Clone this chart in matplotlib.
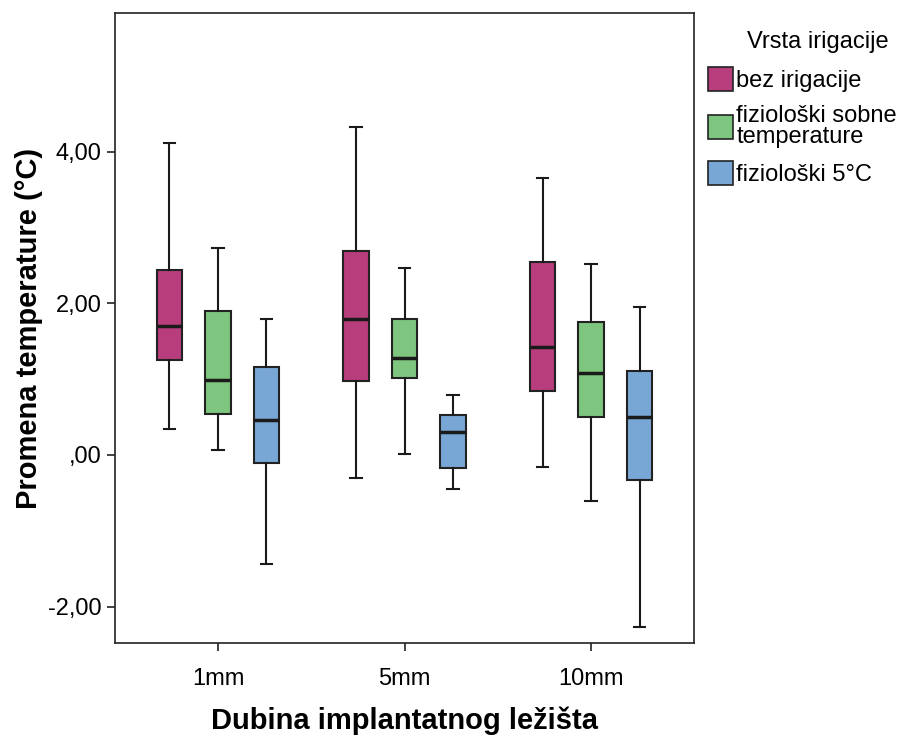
import matplotlib
matplotlib.use("Agg")
import matplotlib.pyplot as plt
from matplotlib.patches import Patch

plt.rcParams['font.family'] = ['Liberation Sans', 'DejaVu Sans']

groups = ["1mm", "5mm", "10mm"]
series = ["bez irigacije", "fiziološki sobne\ntemperature", "fiziološki 5°C"]
colors = ["#B83D7C", "#7EC67F", "#78A7D6"]

# per series: lists over groups [whislo, q1, med, q3, whishi]
bez = [[0.34, 1.25, 1.70, 2.44, 4.12],
       [-0.30, 0.98, 1.79, 2.69, 4.33],
       [-0.16, 0.84, 1.42, 2.55, 3.65]]
sobne = [[0.07, 0.54, 0.99, 1.90, 2.73],
         [0.01, 1.02, 1.28, 1.79, 2.47],
         [-0.61, 0.50, 1.08, 1.75, 2.52]]
pet = [[-1.44, -0.11, 0.46, 1.16, 1.79],
       [-0.45, -0.17, 0.30, 0.53, 0.79],
       [-2.27, -0.33, 0.50, 1.11, 1.95]]
all_series = [bez, sobne, pet]

fig = plt.figure(figsize=(9.06, 7.36), dpi=100)
ax = fig.add_axes([115/906, 93/736, 579/906, 630/736])

offsets = [-0.26, 0.0, 0.26]
for s, (data, col, off) in enumerate(zip(all_series, colors, offsets)):
    stats = []
    for vals in data:
        stats.append(dict(whislo=vals[0], q1=vals[1], med=vals[2], q3=vals[3], whishi=vals[4], fliers=[]))
    pos = [i + 1 + off for i in range(len(groups))]
    ax.bxp(stats, positions=pos, widths=0.135, patch_artist=True, showfliers=False,
           boxprops=dict(facecolor=col, edgecolor="#222222", linewidth=1.5),
           medianprops=dict(color="#1a1a1a", linewidth=2.5),
           whiskerprops=dict(color="#1a1a1a", linewidth=1.5),
           capprops=dict(color="#1a1a1a", linewidth=1.5),
           capwidths=0.06)

ax.set_xlim(0.448, 3.552)
ax.set_ylim(-2.48, 5.83)
ax.set_xticks([1, 2, 3])
ax.set_xticklabels(groups, fontsize=17)
ax.set_yticks([-2, 0, 2, 4])
ax.set_yticklabels(["-2,00", ",00", "2,00", "4,00"], fontsize=17)
ax.tick_params(axis='both', length=6, width=1.2, color="#222222")
ax.tick_params(axis='x', pad=12)
for sp in ax.spines.values():
    sp.set_linewidth(1.2)
    sp.set_color("#222222")

ax.set_xlabel("Dubina implantatnog ležišta", fontsize=21, fontweight='bold', labelpad=12)
ax.set_ylabel("Promena temperature (°C)", fontsize=21, fontweight='bold', labelpad=4)

fig.text(818/906, 1 - 42/736, "Vrsta irigacije", fontsize=17, ha='center', va='center')
handles = [Patch(facecolor=c, edgecolor="#222222", linewidth=1.2) for c in colors]
leg = fig.legend(handles, series, loc='upper left',
                 bbox_to_anchor=(708/906, 1 - 67/736), frameon=False, borderpad=0,
                 borderaxespad=0,
                 fontsize=17, handlelength=1.05, handleheight=1.2,
                 handletextpad=0.15, labelspacing=0.55)
for t in leg.get_texts():
    t.set_linespacing(0.95)

fig.savefig("out.png", dpi=100)
